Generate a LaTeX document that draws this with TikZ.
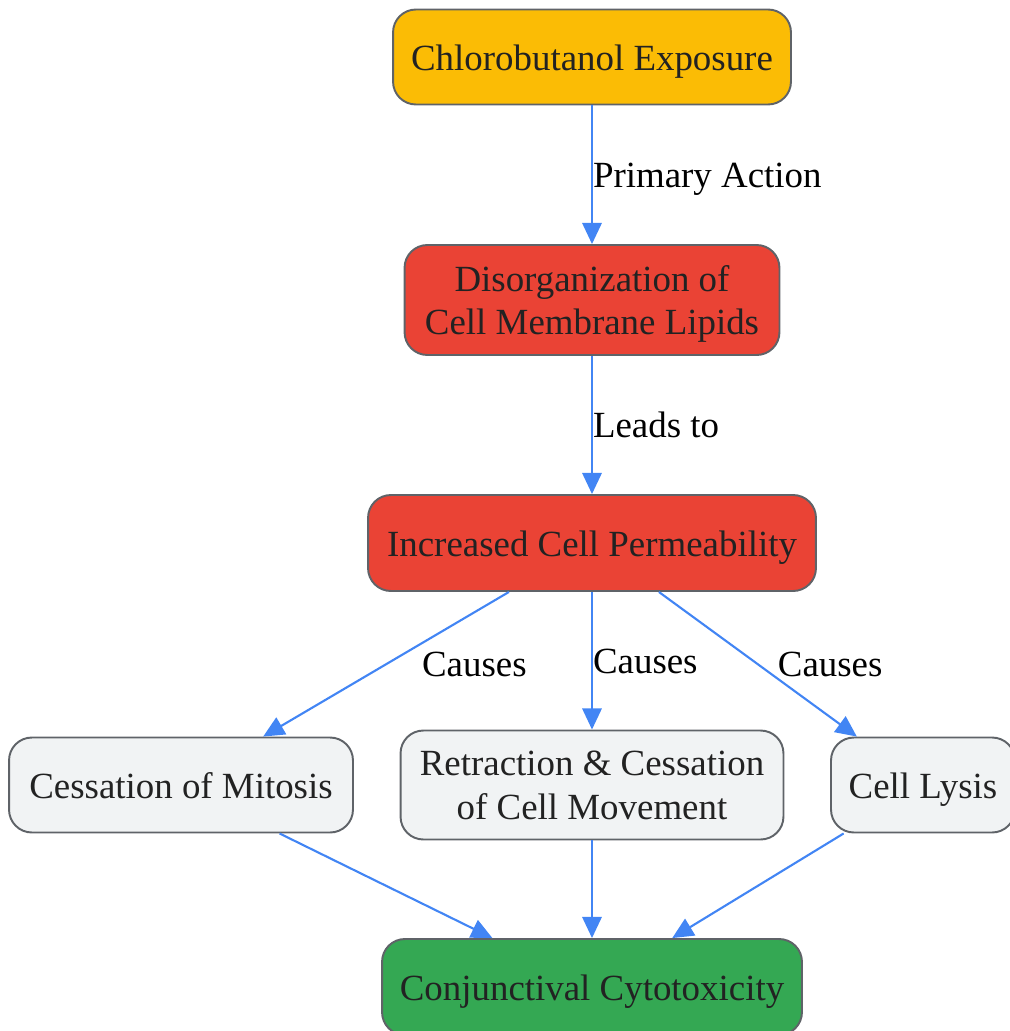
\documentclass[tikz,border=0pt]{standalone}
\usepackage{fontspec}
\setmainfont{Liberation Serif}
\usetikzlibrary{shapes,arrows.meta,positioning,calc}

\definecolor{expoorange}{HTML}{FBBC05}
\definecolor{damagered}{HTML}{EA4335}
\definecolor{effectgray}{HTML}{F1F3F4}
\definecolor{outcomegreen}{HTML}{34A853}
\definecolor{boxgray}{HTML}{5F6368}
\definecolor{flowblue}{HTML}{4285F4}
\definecolor{nodetext}{HTML}{222222}

\begin{document}
\begin{tikzpicture}[x=0.02cm, y=-0.02cm,
    box/.style={draw=boxgray, line width=1.1pt, rounded corners=13pt, align=center,
                text=nodetext, font=\fontsize{21}{25}\selectfont, inner sep=0pt},
    oneline/.style={text height=15.4pt, text depth=0pt},
    flow/.style={draw=flowblue, line width=1.2pt, -{Triangle[length=12pt,width=11pt]}},
    lbl/.style={font=\fontsize{21}{25}\selectfont, inner sep=0pt, anchor=west, text=black,
                text height=18.4pt, text depth=4pt}]
                \useasboundingbox (0,0) rectangle (1009,1031);

                % Cause
                \node[box, oneline, fill=expoorange, minimum width=7.96cm, minimum height=1.9cm] (expo) at (592,57) {Chlorobutanol Exposure};

                % Membrane damage
                \node[box, fill=damagered, minimum width=7.5cm, minimum height=2.2cm, text depth=0pt] (disorg) at (592,300) {Disorganization of\\Cell Membrane Lipids};
                \node[box, oneline, fill=damagered, minimum width=8.96cm, minimum height=1.92cm] (perm) at (592,543) {Increased Cell Permeability};

                % Effects on the cell
                \node[box, oneline, fill=effectgray, minimum width=6.88cm, minimum height=1.9cm] (mitosis) at (181,785) {Cessation of Mitosis};
                \node[box, fill=effectgray, minimum width=7.66cm, minimum height=2.18cm] (retract) at (592,785) {Retraction \& Cessation\\of Cell Movement};
                \node[box, oneline, fill=effectgray, minimum width=3.68cm, minimum height=1.9cm] (lysis) at (923,785) {Cell Lysis};

                % Outcome
                \node[box, oneline, fill=outcomegreen, minimum width=8.4cm, minimum height=1.92cm] (conj) at (592,987) {Conjunctival Cytotoxicity};

                % Connectors
                \draw[flow] (expo) -- node[lbl] {Primary Action} (disorg);
                \draw[flow] (disorg) -- node[lbl] {Leads to} (perm);
                \draw[flow] (perm) -- node[lbl, xshift=0.7cm] {Causes} (mitosis);
                \draw[flow] (perm) -- node[lbl] {Causes} (retract);
                \draw[flow] (perm) -- node[lbl, xshift=0.38cm] {Causes} (lysis);
                \draw[flow] (mitosis) -- (conj);
                \draw[flow] (retract) -- (conj);
                \draw[flow] (lysis) -- (conj);
\end{tikzpicture}
\end{document}
